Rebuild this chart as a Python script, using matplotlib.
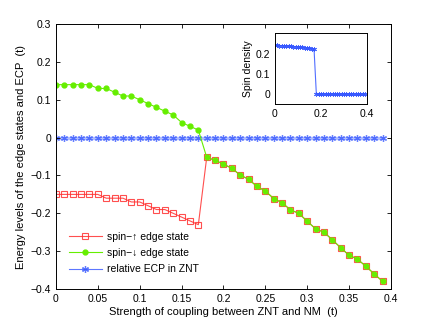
import numpy as np
import matplotlib.pyplot as plt

# coupling strength (t)
coupling = [0.00, 0.01, 0.02, 0.03, 0.04, 0.05, 0.06, 0.07, 0.08, 0.09,
            0.10, 0.11, 0.12, 0.13, 0.14, 0.15, 0.16, 0.17, 0.18, 0.19,
            0.20, 0.21, 0.22, 0.23, 0.24, 0.25, 0.26, 0.27, 0.28, 0.29,
            0.30, 0.31, 0.32, 0.33, 0.34, 0.35, 0.36, 0.37, 0.38, 0.39]

spin_up = [-0.15, -0.15, -0.15, -0.15, -0.15, -0.15, -0.16, -0.16, -0.16, -0.17,
           -0.17, -0.18, -0.19, -0.19, -0.20, -0.21, -0.22, -0.23, -0.052, -0.06,
           -0.07, -0.081, -0.099, -0.11, -0.129, -0.141, -0.161, -0.172, -0.191, -0.20,
           -0.221, -0.241, -0.25, -0.27, -0.291, -0.311, -0.321, -0.34, -0.36, -0.38]

spin_down = [0.14, 0.14, 0.14, 0.14, 0.14, 0.13, 0.13, 0.12, 0.11, 0.11,
             0.10, 0.09, 0.08, 0.07, 0.06, 0.04, 0.03, 0.02, -0.052, -0.06,
             -0.07, -0.081, -0.099, -0.11, -0.129, -0.141, -0.161, -0.172, -0.191, -0.20,
             -0.221, -0.241, -0.25, -0.27, -0.291, -0.311, -0.321, -0.34, -0.36, -0.38]

ecp = [0.0, 0.0, 0.0, 0.0, 0.0, 0.0, 0.0, 0.0, 0.0, 0.0,
       0.0, 0.0, 0.0, 0.0, 0.0, 0.0, 0.0, 0.0, 0.0, 0.0,
       0.0, 0.0, 0.0, 0.0, 0.0, 0.0, 0.0, 0.0, 0.0, 0.0,
       0.0, 0.0, 0.0, 0.0, 0.0, 0.0, 0.0, 0.0, 0.0, 0.0]

spin_density = [0.240, 0.240, 0.239, 0.239, 0.238, 0.237, 0.236, 0.235, 0.234, 0.233,
                0.232, 0.231, 0.230, 0.229, 0.227, 0.226, 0.224, 0.222, 0.0, 0.0,
                0.0, 0.0, 0.0, 0.0, 0.0, 0.0, 0.0, 0.0, 0.0, 0.0,
                0.0, 0.0, 0.0, 0.0, 0.0, 0.0, 0.0, 0.0, 0.0, 0.0]

plt.rcParams.update({
    "font.family": ["Liberation Sans", "DejaVu Sans"],
    "font.size": 7.5,
    "axes.linewidth": 0.7,
    "xtick.direction": "in",
    "ytick.direction": "in",
    "xtick.top": True,
    "ytick.right": True,
    "xtick.major.size": 3,
    "ytick.major.size": 3,
    "xtick.major.width": 0.6,
    "ytick.major.width": 0.6,
})

fig = plt.figure(figsize=(4.32, 3.26), dpi=100)
ax = fig.add_axes([0.1296, 0.1135, 0.7754, 0.8125])

red = "#ff3030"
green = "#66ee00"
blue = "#3355ff"
asterisk = (6, 2, 0)

ax.plot(coupling, spin_up, color=red, lw=0.8, marker="s", ms=5, mfc="none",
        mec=red, mew=0.8, alpha=0.85, label="spin\u2212\u2191 edge state")
ax.plot(coupling, spin_down, color=green, lw=0.8, marker="o", ms=3.5,
        mfc=green, mec=green, label="spin\u2212\u2193 edge state")
ax.plot(coupling, ecp, color=blue, lw=2.4, alpha=0.4, zorder=1)
ax.plot(coupling, ecp, color=blue, lw=0, marker=asterisk, ms=5, mew=0.9,
        alpha=0.75, zorder=1.5)
ax.plot([], [], color=blue, lw=0.8, marker=asterisk, ms=5, mew=0.9, alpha=0.8,
        label="relative ECP in ZNT")

ax.set_xlim(0, 0.4)
ax.set_ylim(-0.4, 0.3)
ax.set_xticks(np.arange(0, 0.401, 0.05))
ax.set_xticklabels(["0", "0.05", "0.1", "0.15", "0.2", "0.25", "0.3", "0.35", "0.4"])
ax.set_yticks(np.arange(-0.4, 0.301, 0.1))
ax.set_yticklabels(["\u22120.4", "\u22120.3", "\u22120.2", "\u22120.1", "0", "0.1", "0.2", "0.3"])
ax.set_xlabel("Strength of coupling between ZNT and NM  (t)", fontsize=8, labelpad=2)
ax.set_ylabel("Energy levels of the edge states and ECP  (t)", fontsize=8, labelpad=3)

ax.legend(loc="lower left", bbox_to_anchor=(0.01, 0.02), frameon=False,
          fontsize=7.5, handlelength=3.2, handletextpad=0.5, labelspacing=0.6)

# inset: spin density
ins = fig.add_axes([0.636, 0.680, 0.214, 0.218])
ins.plot(coupling, spin_density, color=blue, lw=0.8, marker=asterisk, ms=3.5,
         mew=0.7, alpha=0.85)
ins.set_xlim(0, 0.4)
ins.set_ylim(-0.05, 0.3)
ins.set_xticks([0, 0.2, 0.4])
ins.set_xticklabels(["0", "0.2", "0.4"])
ins.set_yticks([0, 0.1, 0.2])
ins.set_yticklabels(["0", "0.1", "0.2"])
ins.set_ylabel("Spin density", fontsize=7.5, labelpad=2)
ins.tick_params(top=False, right=False, length=0)

fig.savefig("out.png", dpi=100)
